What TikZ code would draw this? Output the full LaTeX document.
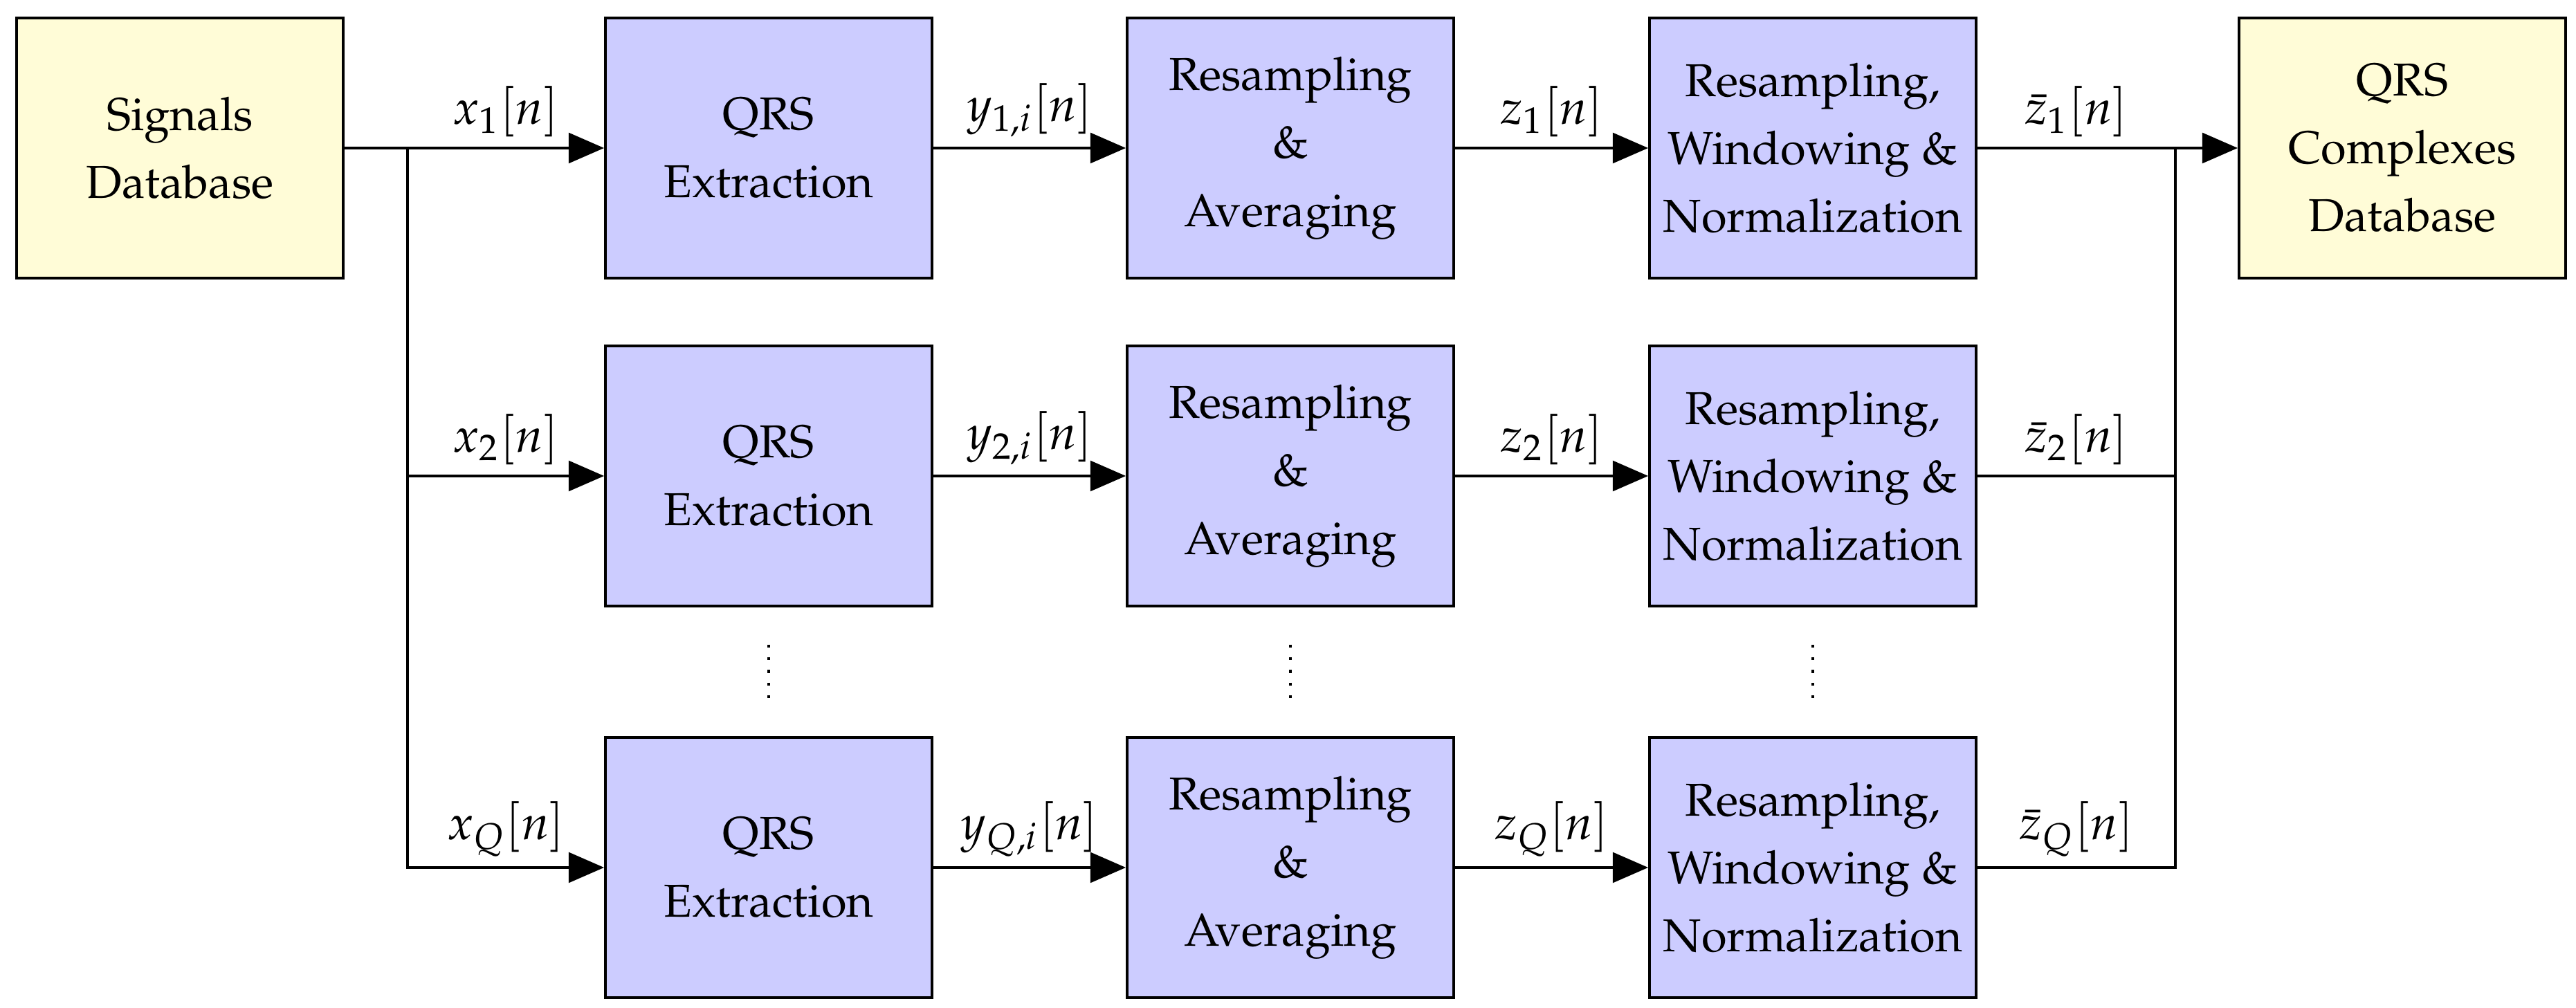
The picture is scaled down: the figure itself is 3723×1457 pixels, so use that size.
\documentclass[tikz,border=0pt]{standalone}
\usepackage[T1]{fontenc}
\usepackage{mathpazo}
\usetikzlibrary{arrows.meta}
\definecolor{procblue}{RGB}{204,204,255}
\definecolor{dbyellow}{RGB}{255,252,215}
\tikzset{
  blockbox/.style={draw=black, line width=0.6pt, fill=procblue, minimum width=2.36cm, minimum height=1.88cm, align=center, inner sep=1pt, font=\fontsize{9.5}{14}\selectfont},
  dbbox/.style={blockbox, fill=dbyellow},
  conn/.style={line width=0.6pt},
  arr/.style={conn, -{Triangle[length=7.3pt, width=6.2pt]}},
  siglab/.style={above, inner sep=2pt, font=\fontsize{10}{12}\selectfont},
  dotcol/.style={line width=0.6pt, dash pattern=on 0.6pt off 2pt}
}
\begin{document}
\begin{tikzpicture}[x=0.005cm, y=-0.005cm]
\useasboundingbox (0,0) rectangle (3723,1457);
% nodes
\node[dbbox] (sig) at (260,214) {Signals\\Database};
\node[dbbox] (out) at (3472,214) {QRS\\Complexes\\Database};
\foreach \r/\yy in {1/214, 2/688, 3/1254} {
  \node[blockbox] (qrs\r) at (1111,\yy) {QRS\\Extraction};
  \node[blockbox] (avg\r) at (1865,\yy) {Resampling\\\&\\Averaging};
  \node[blockbox] (win\r) at (2620,\yy) {Resampling,\\Windowing \&\\Normalization};
  \coordinate (jL\r) at (589,\yy);
  \coordinate (jR\r) at (3144,\yy);
}
% dots
\coordinate (d1a) at (1111,932); \coordinate (d1b) at (1111,1012);
\coordinate (d2a) at (1865,932); \coordinate (d2b) at (1865,1012);
\coordinate (d3a) at (2620,932); \coordinate (d3b) at (2620,1012);
\draw[dotcol] (d1a) -- (d1b);
\draw[dotcol] (d2a) -- (d2b);
\draw[dotcol] (d3a) -- (d3b);
% left distribution
\draw[conn] (sig.east) -- (jL1);
\draw[arr] (jL1) -- node[siglab] {$x_1[n]$} (qrs1.west);
\draw[arr] (jL2) -- node[siglab] {$x_2[n]$} (qrs2.west);
\draw[arr] (jL1) -- (jL3) -- node[siglab] {$x_Q[n]$} (qrs3.west);
% row connections
\draw[arr] (qrs1.east) -- node[siglab] {$y_{1,i}[n]$} (avg1.west);
\draw[arr] (qrs2.east) -- node[siglab] {$y_{2,i}[n]$} (avg2.west);
\draw[arr] (qrs3.east) -- node[siglab] {$y_{Q,i}[n]$} (avg3.west);
\draw[arr] (avg1.east) -- node[siglab] {$z_1[n]$} (win1.west);
\draw[arr] (avg2.east) -- node[siglab] {$z_2[n]$} (win2.west);
\draw[arr] (avg3.east) -- node[siglab] {$z_Q[n]$} (win3.west);
% right collection
\draw[conn] (win1.east) -- node[siglab] {$\bar{z}_1[n]$} (jR1);
\draw[conn] (win2.east) -- node[siglab] {$\bar{z}_2[n]$} (jR2);
\draw[conn] (win3.east) -- node[siglab] {$\bar{z}_Q[n]$} (jR3) -- (jR1);
\draw[arr] (jR1) -- (out.west);
\end{tikzpicture}
\end{document}
